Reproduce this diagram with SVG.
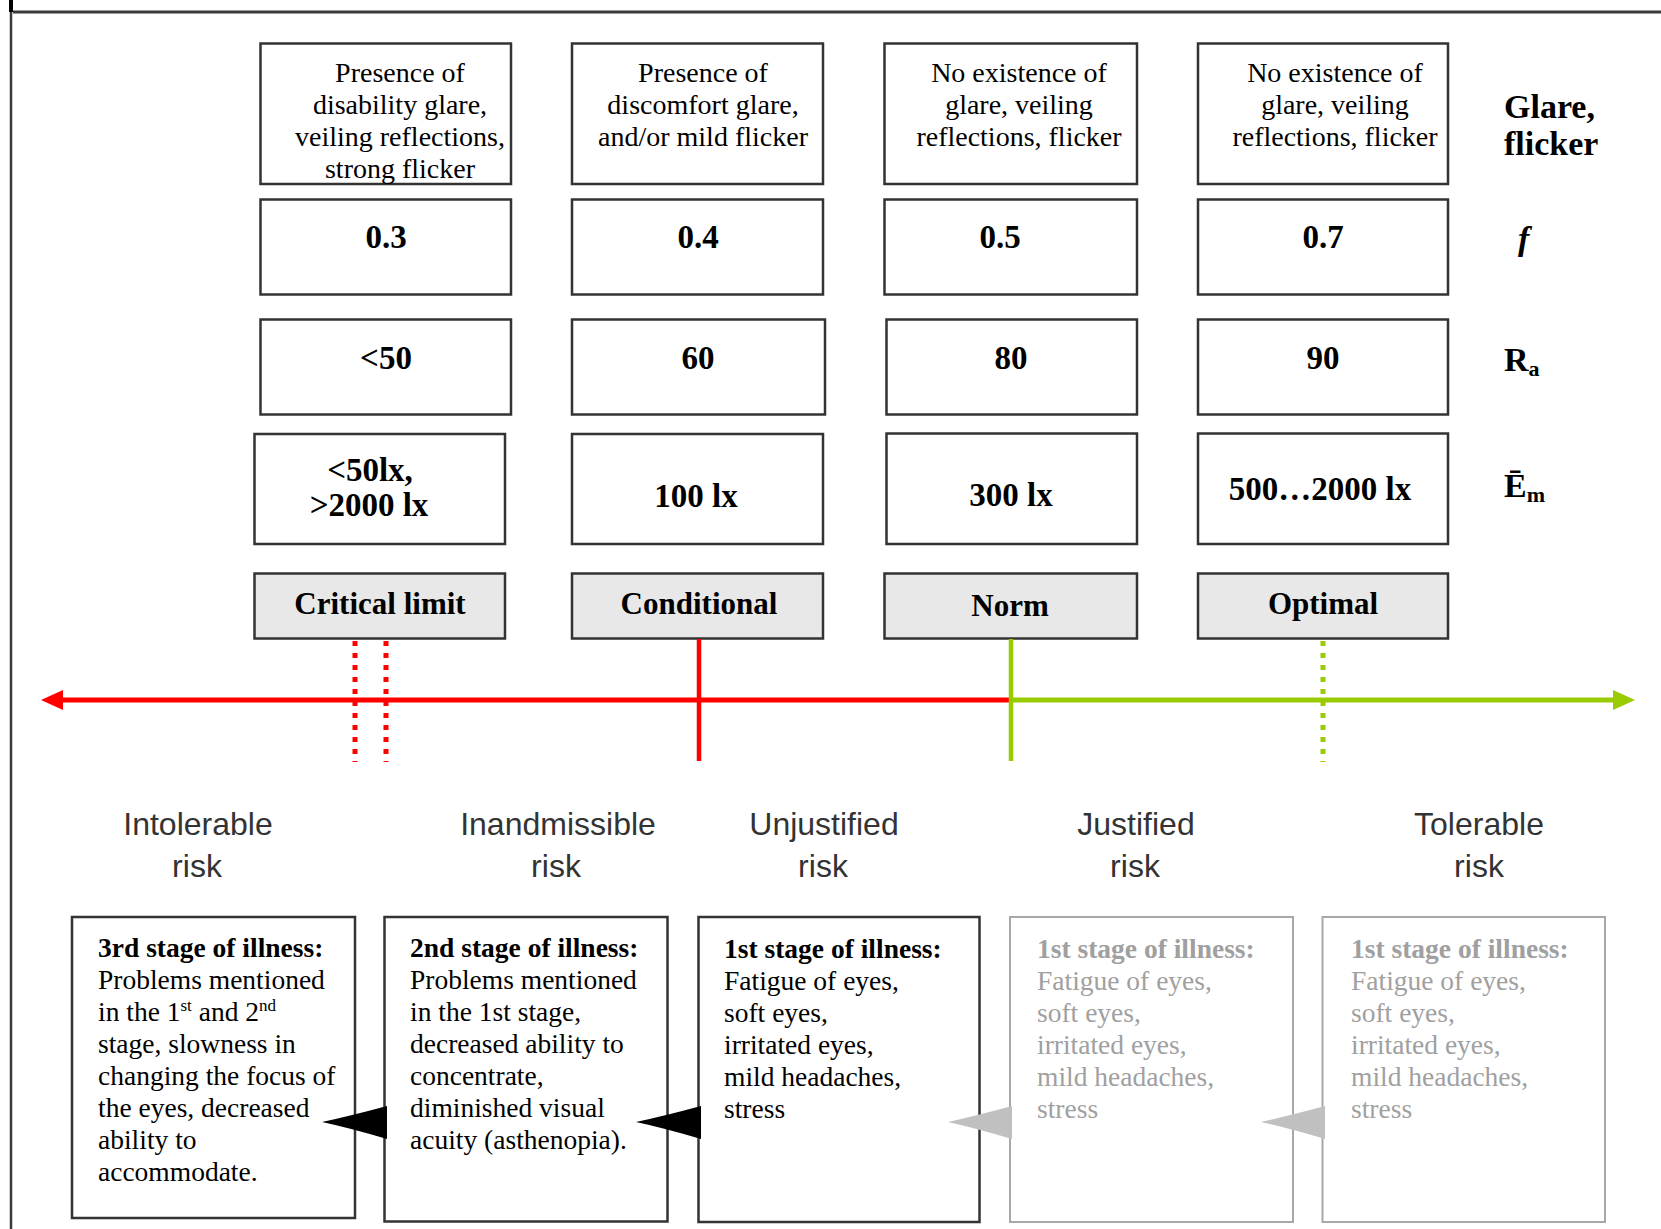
<svg xmlns="http://www.w3.org/2000/svg" width="1661" height="1229" viewBox="0 0 1661 1229">
  <style>
    .box { fill: #ffffff; stroke: #333333; stroke-width: 2.5; }
    .lbl { fill: #e8e8e8; stroke: #333333; stroke-width: 2.5; }
    .gbox { fill: #ffffff; stroke: #a8a8a8; stroke-width: 2; }
    .serif { font-family: "Liberation Serif", "Times New Roman", serif; fill: #000000; }
    .cond { font-size: 28px; text-anchor: middle; }
    .num { font-size: 33px; font-weight: bold; text-anchor: middle; }
    .lab { font-size: 31px; font-weight: bold; text-anchor: middle; }
    .side { font-size: 34px; font-weight: bold; }
    .risk { font-family: "Liberation Sans", Arial, sans-serif; font-size: 32px; fill: #333333; text-anchor: middle; }
    .stage { font-size: 27.5px; }
    .grey { fill: #a0a0a0; }
    .red { stroke: #ff0000; fill: none; }
    .green { stroke: #99cc00; fill: none; }
    .dots { stroke-dasharray: 5 7; stroke-width: 5; }
  </style>
  <defs>
    <marker id="headRed" markerUnits="userSpaceOnUse" markerWidth="22" markerHeight="20" refX="0" refY="10" orient="auto">
      <path d="M0,0 L22,10 L0,20 z" fill="#ff0000"/>
    </marker>
    <marker id="headGreen" markerUnits="userSpaceOnUse" markerWidth="22" markerHeight="20" refX="0" refY="10" orient="auto">
      <path d="M0,0 L22,10 L0,20 z" fill="#99cc00"/>
    </marker>
  </defs>

  <rect width="1661" height="1229" fill="#ffffff"/>

  <!-- page frame -->
  <g id="frame" stroke="#3a3a3a" fill="none">
    <line x1="13" y1="12" x2="1661" y2="12" stroke-width="3"/>
    <line x1="11" y1="0" x2="11" y2="1229" stroke-width="2.5"/>
    <line x1="11" y1="0" x2="11" y2="12" stroke-width="4" stroke="#000000"/>
  </g>

  <!-- column 1: critical limit -->
  <g id="col-critical">
    <rect class="box" x="260.5" y="43.5" width="250.5" height="140.5"/>
    <text class="serif cond" x="400"><tspan x="400" y="82">Presence of</tspan><tspan x="400" y="114">disability glare,</tspan><tspan x="400" y="146">veiling reflections,</tspan><tspan x="400" y="178">strong flicker</tspan></text>
    <rect class="box" x="260.5" y="199.5" width="250.5" height="95"/>
    <text class="serif num" x="386" y="248">0.3</text>
    <rect class="box" x="260.5" y="319.5" width="250.5" height="95"/>
    <text class="serif num" x="386" y="369">&lt;50</text>
    <rect class="box" x="254.5" y="434" width="250.5" height="110"/>
    <text class="serif num"><tspan x="370" y="481">&lt;50lx,</tspan><tspan x="369" y="516">&gt;2000 lx</tspan></text>
    <rect class="lbl" x="254.5" y="573.5" width="250.5" height="65"/>
    <text class="serif lab" x="380" y="614">Critical limit</text>
  </g>

  <!-- column 2: conditional -->
  <g id="col-conditional">
    <rect class="box" x="572" y="43.5" width="251" height="140.5"/>
    <text class="serif cond"><tspan x="703" y="82">Presence of</tspan><tspan x="703" y="114">discomfort glare,</tspan><tspan x="703" y="146">and/or mild flicker</tspan></text>
    <rect class="box" x="572" y="199.5" width="251" height="95"/>
    <text class="serif num" x="698" y="248">0.4</text>
    <rect class="box" x="572" y="319.5" width="253" height="95"/>
    <text class="serif num" x="698" y="369">60</text>
    <rect class="box" x="572" y="434" width="251" height="110"/>
    <text class="serif num" x="696" y="507">100 lx</text>
    <rect class="lbl" x="572" y="573.5" width="251" height="65"/>
    <text class="serif lab" x="699" y="614">Conditional</text>
  </g>

  <!-- column 3: norm -->
  <g id="col-norm">
    <rect class="box" x="884.5" y="43.5" width="252.5" height="140.5"/>
    <text class="serif cond"><tspan x="1019" y="82">No existence of</tspan><tspan x="1019" y="114">glare, veiling</tspan><tspan x="1019" y="146">reflections, flicker</tspan></text>
    <rect class="box" x="884.5" y="199.5" width="252.5" height="95"/>
    <text class="serif num" x="1000" y="248">0.5</text>
    <rect class="box" x="886.5" y="319.5" width="250.5" height="95"/>
    <text class="serif num" x="1011" y="369">80</text>
    <rect class="box" x="886.5" y="433.5" width="250.5" height="110.5"/>
    <text class="serif num" x="1011" y="506">300 lx</text>
    <rect class="lbl" x="884.5" y="573.5" width="252.5" height="65"/>
    <text class="serif lab" x="1010" y="616">Norm</text>
  </g>

  <!-- column 4: optimal -->
  <g id="col-optimal">
    <rect class="box" x="1198" y="43.5" width="250" height="140.5"/>
    <text class="serif cond"><tspan x="1335" y="82">No existence of</tspan><tspan x="1335" y="114">glare, veiling</tspan><tspan x="1335" y="146">reflections, flicker</tspan></text>
    <rect class="box" x="1198" y="199.5" width="250" height="95"/>
    <text class="serif num" x="1323" y="248">0.7</text>
    <rect class="box" x="1198" y="319.5" width="250" height="95"/>
    <text class="serif num" x="1323" y="369">90</text>
    <rect class="box" x="1198" y="433.5" width="250" height="110.5"/>
    <text class="serif num" x="1320" y="500">500…2000 lx</text>
    <rect class="lbl" x="1198" y="573.5" width="250" height="65"/>
    <text class="serif lab" x="1323" y="614">Optimal</text>
  </g>

  <!-- row headings -->
  <g id="row-headings">
    <text class="serif side"><tspan x="1504" y="118">Glare,</tspan><tspan x="1504" y="155">flicker</tspan></text>
    <text class="serif side" x="1518" y="250" font-style="italic">f</text>
    <text class="serif side" x="1504" y="371">R<tspan font-size="22px" dy="5">a</tspan></text>
    <text class="serif side" x="1504" y="497">Ē<tspan font-size="22px" dy="5">m</tspan></text>
  </g>

  <!-- risk scale: axis and limit ticks -->
  <g id="connectors">
    <line class="red" x1="1011" y1="700" x2="63" y2="700" stroke-width="5" marker-end="url(#headRed)"/>
    <line class="green" x1="1011" y1="700" x2="1613" y2="700" stroke-width="5" marker-end="url(#headGreen)"/>
    <line class="red dots" x1="355" y1="641" x2="355" y2="762"/>
    <line class="red dots" x1="386" y1="641" x2="386" y2="762"/>
    <line class="red" x1="699" y1="639" x2="699" y2="761" stroke-width="4.5"/>
    <line class="green" x1="1011" y1="639" x2="1011" y2="761" stroke-width="4.5"/>
    <line class="green dots" x1="1323" y1="641" x2="1323" y2="762"/>
  </g>

  <!-- risk zones -->
  <g id="risk-labels">
    <text class="risk"><tspan x="198" y="835">Intolerable</tspan><tspan x="197" y="877">risk</tspan></text>
    <text class="risk"><tspan x="558" y="835">Inandmissible</tspan><tspan x="556" y="877">risk</tspan></text>
    <text class="risk"><tspan x="824" y="835">Unjustified</tspan><tspan x="823" y="877">risk</tspan></text>
    <text class="risk"><tspan x="1136" y="835">Justified</tspan><tspan x="1135" y="877">risk</tspan></text>
    <text class="risk"><tspan x="1479" y="835">Tolerable</tspan><tspan x="1479" y="877">risk</tspan></text>
  </g>

  <!-- illness stages -->
  <g id="stage-3">
    <rect class="box" x="72" y="917" width="283" height="301"/>
    <text class="serif stage">
      <tspan x="98" y="957" font-weight="bold">3rd stage of illness:</tspan>
      <tspan x="98" y="989">Problems mentioned</tspan>
      <tspan x="98" y="1021">in the 1</tspan><tspan font-size="17px" dy="-10">st</tspan><tspan dy="10"> and 2</tspan><tspan font-size="17px" dy="-10">nd</tspan>
      <tspan x="98" y="1053">stage, slowness in</tspan>
      <tspan x="98" y="1085">changing the focus of</tspan>
      <tspan x="98" y="1117">the eyes, decreased</tspan>
      <tspan x="98" y="1149">ability to</tspan>
      <tspan x="98" y="1181">accommodate.</tspan>
    </text>
  </g>

  <g id="stage-2">
    <rect class="box" x="384.5" y="917" width="283" height="304.5"/>
    <text class="serif stage">
      <tspan x="410" y="957" font-weight="bold">2nd stage of illness:</tspan>
      <tspan x="410" y="989">Problems mentioned</tspan>
      <tspan x="410" y="1021">in the 1st stage,</tspan>
      <tspan x="410" y="1053">decreased ability to</tspan>
      <tspan x="410" y="1085">concentrate,</tspan>
      <tspan x="410" y="1117">diminished visual</tspan>
      <tspan x="410" y="1149">acuity (asthenopia).</tspan>
    </text>
  </g>

  <g id="stage-1">
    <rect class="box" x="698.5" y="917" width="281" height="305"/>
    <text class="serif stage">
      <tspan x="724" y="958" font-weight="bold">1st stage of illness:</tspan>
      <tspan x="724" y="990">Fatigue of eyes,</tspan>
      <tspan x="724" y="1022">soft eyes,</tspan>
      <tspan x="724" y="1054">irritated eyes,</tspan>
      <tspan x="724" y="1086">mild headaches,</tspan>
      <tspan x="724" y="1118">stress</tspan>
    </text>
  </g>

  <g id="stage-1-justified">
    <rect class="gbox" x="1010" y="917" width="283" height="305"/>
    <text class="serif stage grey">
      <tspan x="1037" y="958" font-weight="bold">1st stage of illness:</tspan>
      <tspan x="1037" y="990">Fatigue of eyes,</tspan>
      <tspan x="1037" y="1022">soft eyes,</tspan>
      <tspan x="1037" y="1054">irritated eyes,</tspan>
      <tspan x="1037" y="1086">mild headaches,</tspan>
      <tspan x="1037" y="1118">stress</tspan>
    </text>
  </g>

  <g id="stage-1-tolerable">
    <rect class="gbox" x="1322.5" y="917" width="282.5" height="305"/>
    <text class="serif stage grey">
      <tspan x="1351" y="958" font-weight="bold">1st stage of illness:</tspan>
      <tspan x="1351" y="990">Fatigue of eyes,</tspan>
      <tspan x="1351" y="1022">soft eyes,</tspan>
      <tspan x="1351" y="1054">irritated eyes,</tspan>
      <tspan x="1351" y="1086">mild headaches,</tspan>
      <tspan x="1351" y="1118">stress</tspan>
    </text>
  </g>

  <!-- progression arrowheads between stages -->
  <g id="stage-arrows">
    <path d="M387,1106 Q350,1116 322,1122 Q350,1128 387,1139 z" fill="#000000"/>
    <path d="M701,1106 Q664,1116 636,1122 Q664,1128 701,1139 z" fill="#000000"/>
    <path d="M1012,1106 Q975,1116 948,1122 Q975,1128 1012,1139 z" fill="#c0c0c0"/>
    <path d="M1325,1106 Q1288,1116 1261,1122 Q1288,1128 1325,1139 z" fill="#c0c0c0"/>
  </g>
</svg>
